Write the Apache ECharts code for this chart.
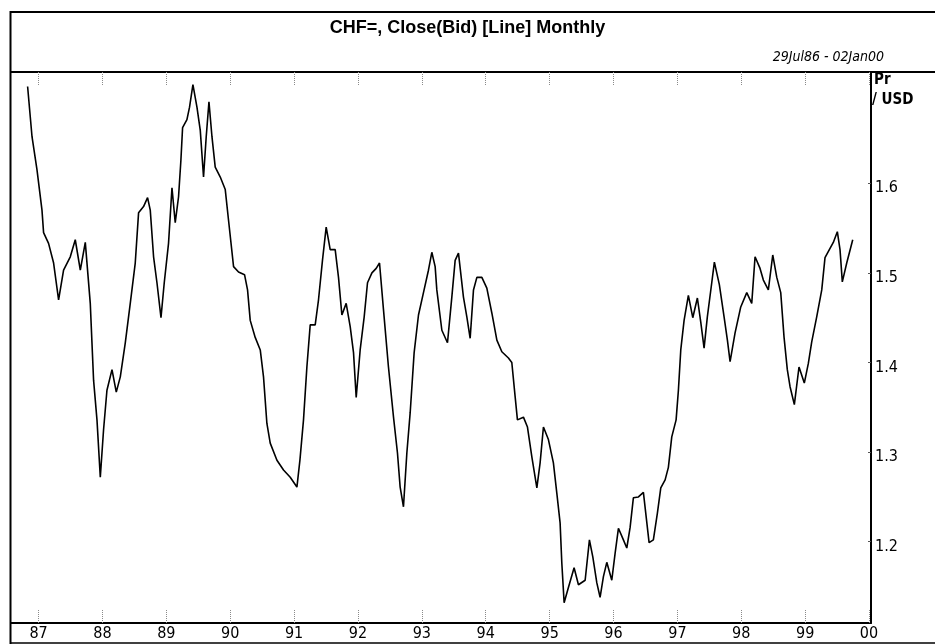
<!DOCTYPE html>
<html>
<head>
<meta charset="utf-8">
<script src="https://cdn.jsdelivr.net/npm/echarts@6/dist/echarts.min.js"></script>
<style>
  html, body { margin: 0; padding: 0; background: #ffffff; }
  #chart { width: 935px; height: 644px; }
</style>
</head>
<body>
<div id="chart"></div>
<script>
// Decimal-year positions of the line's vertices and the CHF per USD closes read at them
const years = [
  1986.828, 1986.897, 1986.975, 1987.053, 1987.078, 1987.156, 1987.235, 1987.313, 1987.391, 1987.496,
  1987.574, 1987.653, 1987.731, 1987.809, 1987.861, 1987.914, 1987.966, 1988.017, 1988.070, 1988.149,
  1988.216, 1988.279, 1988.357, 1988.435, 1988.513, 1988.565, 1988.643, 1988.706, 1988.748, 1988.800,
  1988.853, 1988.916, 1988.967, 1989.034, 1989.088, 1989.139, 1989.191, 1989.228, 1989.254, 1989.322,
  1989.363, 1989.416, 1989.479, 1989.531, 1989.582, 1989.624, 1989.667, 1989.714, 1989.765, 1989.844,
  1989.922, 1989.973, 1990.052, 1990.130, 1990.224, 1990.271, 1990.313, 1990.391, 1990.470, 1990.521,
  1990.574, 1990.626, 1990.731, 1990.834, 1990.939, 1991.044, 1991.091, 1991.147, 1991.200, 1991.252,
  1991.330, 1991.382, 1991.444, 1991.502, 1991.565, 1991.643, 1991.695, 1991.748, 1991.815, 1991.878,
  1991.930, 1991.972, 1992.034, 1992.097, 1992.149, 1992.218, 1992.285, 1992.337, 1992.399, 1992.477,
  1992.556, 1992.618, 1992.660, 1992.712, 1992.765, 1992.817, 1992.879, 1992.947, 1993.025, 1993.103,
  1993.156, 1993.208, 1993.234, 1993.313, 1993.401, 1993.469, 1993.521, 1993.573, 1993.651, 1993.704,
  1993.756, 1993.808, 1993.861, 1993.939, 1994.017, 1994.096, 1994.174, 1994.252, 1994.355, 1994.408,
  1994.460, 1994.496, 1994.590, 1994.653, 1994.721, 1994.800, 1994.851, 1994.903, 1994.981, 1995.059,
  1995.113, 1995.164, 1995.191, 1995.227, 1995.294, 1995.383, 1995.451, 1995.556, 1995.623, 1995.676,
  1995.739, 1995.790, 1995.842, 1995.895, 1995.973, 1996.025, 1996.077, 1996.155, 1996.208, 1996.260,
  1996.311, 1996.390, 1996.468, 1996.557, 1996.624, 1996.687, 1996.740, 1996.808, 1996.859, 1996.912,
  1996.980, 1997.016, 1997.053, 1997.105, 1997.172, 1997.241, 1997.313, 1997.366, 1997.418, 1997.469,
  1997.538, 1997.579, 1997.657, 1997.731, 1997.783, 1997.825, 1997.903, 1997.992, 1998.086, 1998.164,
  1998.216, 1998.294, 1998.346, 1998.424, 1998.493, 1998.556, 1998.618, 1998.670, 1998.721, 1998.764,
  1998.831, 1998.904, 1998.987, 1999.050, 1999.103, 1999.181, 1999.260, 1999.311, 1999.379, 1999.441,
  1999.504, 1999.546, 1999.582, 1999.651, 1999.745
];
const closes = [
  1.708, 1.652, 1.615, 1.570, 1.545, 1.533, 1.511, 1.470, 1.503, 1.518,
  1.537, 1.503, 1.534, 1.466, 1.380, 1.336, 1.272, 1.325, 1.369, 1.392,
  1.367, 1.384, 1.422, 1.466, 1.511, 1.567, 1.574, 1.584, 1.570, 1.518,
  1.489, 1.450, 1.489, 1.533, 1.595, 1.556, 1.585, 1.626, 1.662, 1.671,
  1.685, 1.710, 1.685, 1.659, 1.607, 1.652, 1.691, 1.652, 1.618, 1.607,
  1.593, 1.559, 1.507, 1.501, 1.498, 1.481, 1.447, 1.428, 1.414, 1.384,
  1.332, 1.310, 1.291, 1.280, 1.272, 1.261, 1.291, 1.336, 1.395, 1.442,
  1.442, 1.470, 1.514, 1.551, 1.526, 1.526, 1.495, 1.453, 1.466, 1.440,
  1.411, 1.361, 1.414, 1.451, 1.489, 1.500, 1.505, 1.511, 1.459, 1.395,
  1.339, 1.299, 1.261, 1.239, 1.299, 1.344, 1.411, 1.453, 1.478, 1.503,
  1.523, 1.507, 1.481, 1.436, 1.422, 1.473, 1.514, 1.522, 1.473, 1.451,
  1.427, 1.481, 1.495, 1.495, 1.483, 1.455, 1.425, 1.412, 1.405, 1.400,
  1.362, 1.336, 1.339, 1.328, 1.295, 1.260, 1.288, 1.328, 1.314, 1.288,
  1.254, 1.221, 1.176, 1.132, 1.149, 1.171, 1.152, 1.157, 1.202, 1.183,
  1.154, 1.138, 1.161, 1.177, 1.157, 1.187, 1.215, 1.202, 1.193, 1.216,
  1.249, 1.250, 1.255, 1.199, 1.202, 1.232, 1.260, 1.269, 1.283, 1.317,
  1.336, 1.369, 1.414, 1.447, 1.475, 1.450, 1.472, 1.445, 1.416, 1.451,
  1.489, 1.512, 1.487, 1.451, 1.425, 1.401, 1.433, 1.462, 1.478, 1.466,
  1.518, 1.505, 1.492, 1.481, 1.520, 1.495, 1.478, 1.428, 1.392, 1.373,
  1.353, 1.395, 1.377, 1.399, 1.423, 1.451, 1.481, 1.517, 1.526, 1.534,
  1.546, 1.526, 1.490, 1.511, 1.537
];
const tickYears = [1987, 1988, 1989, 1990, 1991, 1992, 1993, 1994, 1995, 1996, 1997, 1998, 1999, 2000];
const tickLabels = ['87', '88', '89', '90', '91', '92', '93', '94', '95', '96', '97', '98', '99', '00'];
const priceTicks = [1.2, 1.3, 1.4, 1.5, 1.6];

const titleText = 'CHF=, Close(Bid) [Line] Monthly';
const rangeText = '29Jul86 - 02Jan00';
const unitLines = ['Pr', '/ USD'];

const narrow = "'Liberation Sans Narrow', 'DejaVu Sans Condensed', 'Liberation Sans', Arial, sans-serif";

const chart = echarts.init(document.getElementById('chart'), null, { renderer: 'canvas' });

const tickStyle = { color: '#8a8a8a', width: 1, type: 'dotted' };

chart.setOption({
  backgroundColor: '#ffffff',
  animation: false,
  title: {
    text: titleText,
    left: 'center',
    top: 14,
    textStyle: { fontFamily: "'Liberation Sans', Arial, sans-serif", fontWeight: 'bold', fontSize: 18, color: '#000' }
  },
  grid: { left: 11, right: 64, top: 72, bottom: 21, containLabel: false },
  xAxis: [
    {
      type: 'value',
      position: 'bottom',
      min: 1986.568,
      max: 2000.031,
      axisLine: { show: true, onZero: false, lineStyle: { color: '#000', width: 2 } },
      axisTick: { show: true, inside: true, length: 14, customValues: tickYears, lineStyle: tickStyle },
      axisLabel: {
        show: true,
        customValues: tickYears,
        margin: 3,
        fontFamily: narrow,
        fontSize: 16,
        color: '#000',
        formatter: function (v) {
          const i = tickYears.indexOf(Math.round(v));
          return i >= 0 ? tickLabels[i] : '';
        }
      },
      splitLine: { show: false }
    },
    {
      type: 'value',
      position: 'top',
      min: 1986.568,
      max: 2000.031,
      axisLine: { show: true, onZero: false, lineStyle: { color: '#000', width: 2 } },
      axisTick: { show: true, inside: true, length: 14, customValues: tickYears, lineStyle: tickStyle },
      axisLabel: { show: false },
      splitLine: { show: false }
    }
  ],
  yAxis: {
    type: 'value',
    position: 'right',
    min: 1.1093,
    max: 1.7242,
    axisLine: { show: true, onZero: false, lineStyle: { color: '#000', width: 2 } },
    axisTick: { show: true, inside: true, length: 3, customValues: priceTicks, lineStyle: { color: '#555', width: 1 } },
    axisLabel: {
      show: true,
      customValues: priceTicks,
      margin: 4,
      fontFamily: narrow,
      fontSize: 16,
      color: '#000',
      verticalAlign: 'top',
      padding: [-3, 0, 0, 0],
      formatter: function (v) { return v.toFixed(1); }
    },
    splitLine: { show: false }
  },
  series: [{
    type: 'line',
    xAxisIndex: 0,
    data: years.map(function (t, i) { return [t, closes[i]]; }),
    showSymbol: false,
    symbol: 'none',
    lineStyle: { color: '#000', width: 1.6 },
    silent: true
  }],
  graphic: [
    { type: 'line', shape: { x1: 10.5, y1: 12, x2: 935, y2: 12 }, style: { stroke: '#000', lineWidth: 2 } },
    { type: 'line', shape: { x1: 10.5, y1: 11, x2: 10.5, y2: 644 }, style: { stroke: '#000', lineWidth: 2 } },
    { type: 'line', shape: { x1: 871, y1: 72, x2: 935, y2: 72 }, style: { stroke: '#000', lineWidth: 2 } },
    { type: 'line', shape: { x1: 10.5, y1: 643, x2: 935, y2: 643 }, style: { stroke: '#000', lineWidth: 1.5 } },
    {
      type: 'text', x: 884, y: 57,
      style: { text: rangeText, textAlign: 'right', textVerticalAlign: 'middle', fontFamily: narrow, fontStyle: 'italic', fontSize: 14, fill: '#000' }
    },
    {
      type: 'text', x: 874, y: 80,
      style: { text: unitLines[0], textAlign: 'left', textVerticalAlign: 'middle', fontFamily: narrow, fontWeight: 'bold', fontSize: 15, fill: '#000' }
    },
    {
      type: 'text', x: 872, y: 100,
      style: { text: unitLines[1], textAlign: 'left', textVerticalAlign: 'middle', fontFamily: narrow, fontWeight: 'bold', fontSize: 15, fill: '#000' }
    }
  ]
});
</script>
</body>
</html>
